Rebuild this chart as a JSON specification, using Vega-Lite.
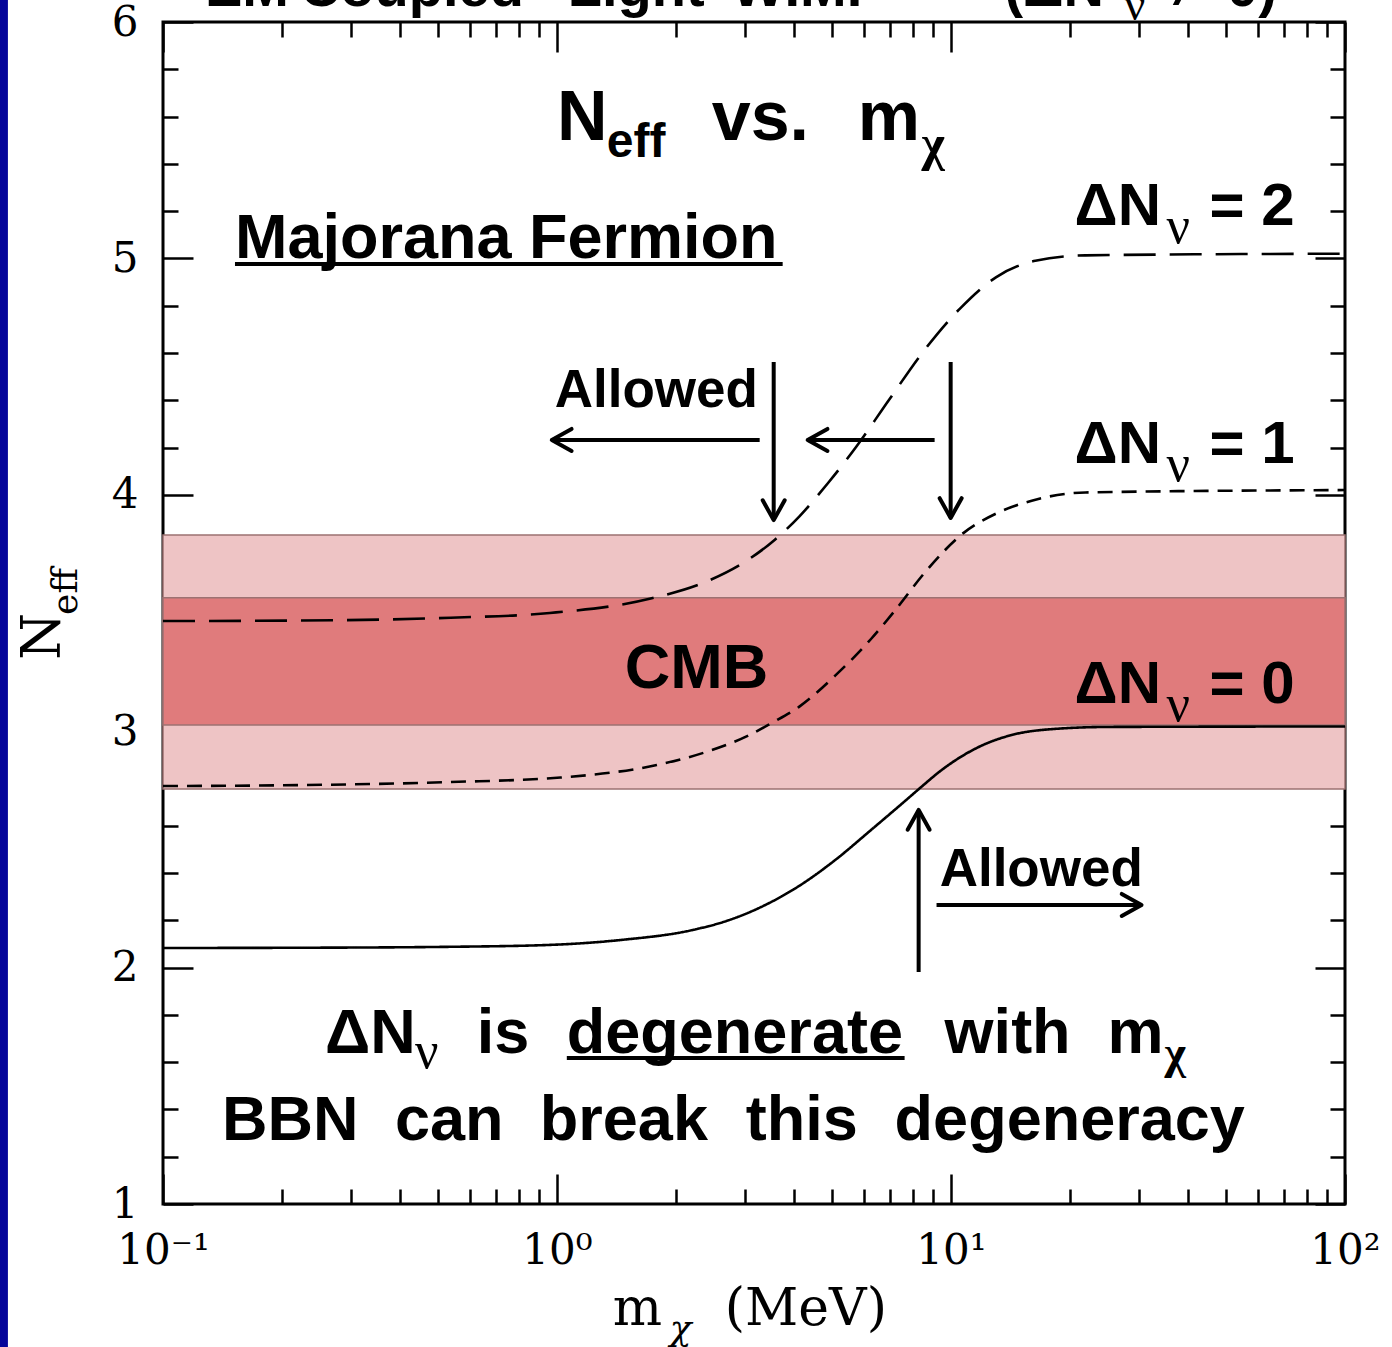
{
  "$schema": "https://vega.github.io/schema/vega-lite/v6.json",
  "width": 1182,
  "height": 1182,
  "autosize": {"type": "none"},
  "padding": {"left": 163, "top": 22, "right": 47, "bottom": 143},
  "background": "white",
  "config": {
    "view": {"stroke": "black", "strokeWidth": 3},
    "axis": {"grid": false, "domain": false, "tickColor": "black", "tickWidth": 2.5, "labelColor": "black", "title": null, "zindex": 1}
  },
  "datasets": {
    "bands": [
      {"band": "outer", "lo": 2.755, "hi": 3.83},
      {"band": "inner", "lo": 3.026, "hi": 3.564}
    ],
    "curves": [
      {"s": "dN0", "m": 0.1, "n": 2.083}, {"s": "dN0", "m": 0.224, "n": 2.084}, {"s": "dN0", "m": 0.537, "n": 2.088},
      {"s": "dN0", "m": 0.959, "n": 2.096}, {"s": "dN0", "m": 1.455, "n": 2.117}, {"s": "dN0", "m": 2.208, "n": 2.159},
      {"s": "dN0", "m": 2.723, "n": 2.2}, {"s": "dN0", "m": 3.35, "n": 2.262}, {"s": "dN0", "m": 4.13, "n": 2.347},
      {"s": "dN0", "m": 5.082, "n": 2.455}, {"s": "dN0", "m": 6.266, "n": 2.582}, {"s": "dN0", "m": 7.709, "n": 2.71},
      {"s": "dN0", "m": 8.375, "n": 2.762}, {"s": "dN0", "m": 9.506, "n": 2.838}, {"s": "dN0", "m": 11.72, "n": 2.932},
      {"s": "dN0", "m": 14.42, "n": 2.986}, {"s": "dN0", "m": 17.78, "n": 3.008}, {"s": "dN0", "m": 25.12, "n": 3.018},
      {"s": "dN0", "m": 100, "n": 3.02},
      {"s": "dN1", "m": 0.1, "n": 2.768}, {"s": "dN1", "m": 0.224, "n": 2.772}, {"s": "dN1", "m": 0.537, "n": 2.785},
      {"s": "dN1", "m": 1.021, "n": 2.804}, {"s": "dN1", "m": 1.791, "n": 2.857}, {"s": "dN1", "m": 2.449, "n": 2.918},
      {"s": "dN1", "m": 3.083, "n": 2.984}, {"s": "dN1", "m": 3.491, "n": 3.033}, {"s": "dN1", "m": 4.13, "n": 3.105},
      {"s": "dN1", "m": 5.082, "n": 3.235}, {"s": "dN1", "m": 6.266, "n": 3.39}, {"s": "dN1", "m": 7.244, "n": 3.515},
      {"s": "dN1", "m": 8.57, "n": 3.67}, {"s": "dN1", "m": 10.79, "n": 3.84}, {"s": "dN1", "m": 13.0, "n": 3.92},
      {"s": "dN1", "m": 16.03, "n": 3.975}, {"s": "dN1", "m": 21.93, "n": 4.01}, {"s": "dN1", "m": 100, "n": 4.02},
      {"s": "dN2", "m": 0.1, "n": 3.466}, {"s": "dN2", "m": 0.224, "n": 3.468}, {"s": "dN2", "m": 0.537, "n": 3.48},
      {"s": "dN2", "m": 0.959, "n": 3.5}, {"s": "dN2", "m": 1.718, "n": 3.56}, {"s": "dN2", "m": 2.449, "n": 3.64},
      {"s": "dN2", "m": 3.02, "n": 3.72}, {"s": "dN2", "m": 3.573, "n": 3.81}, {"s": "dN2", "m": 4.13, "n": 3.91},
      {"s": "dN2", "m": 4.875, "n": 4.05}, {"s": "dN2", "m": 5.754, "n": 4.204}, {"s": "dN2", "m": 6.95, "n": 4.4},
      {"s": "dN2", "m": 8.57, "n": 4.613}, {"s": "dN2", "m": 10.57, "n": 4.79}, {"s": "dN2", "m": 13.0, "n": 4.92},
      {"s": "dN2", "m": 16.37, "n": 4.99}, {"s": "dN2", "m": 21.93, "n": 5.013}, {"s": "dN2", "m": 100, "n": 5.02}
    ],
    "arrows": [
      {"x": 3.269, "y": 4.232, "x2": 0.97, "y2": 4.232, "dir": "left"},
      {"x": 3.548, "y": 4.562, "x2": 3.548, "y2": 3.893, "dir": "down"},
      {"x": 9.087, "y": 4.232, "x2": 4.327, "y2": 4.232, "dir": "left"},
      {"x": 9.98, "y": 4.562, "x2": 9.98, "y2": 3.902, "dir": "down"},
      {"x": 8.277, "y": 1.981, "x2": 8.277, "y2": 2.667, "dir": "up"},
      {"x": 9.19, "y": 2.265, "x2": 30.45, "y2": 2.265, "dir": "right"}
    ],
    "underlines": [
      {"x": 0.1523, "x2": 3.739, "y": 4.976},
      {"x": 1.059, "x2": 7.625, "y": 1.6176}
    ],
    "strip": [
      {"x": 0.03, "x2": 0.0404, "y": 0.3, "y2": 6.2}
    ],
    "txt": [
      {"k": "title", "t": "EM", "x": 0.1278, "y": 6.0677},
      {"k": "title", "t": "Coupled", "x": 0.2226, "y": 6.0677},
      {"k": "title", "t": "Light", "x": 1.065, "y": 6.0677},
      {"k": "title", "t": "WIMP", "x": 2.776, "y": 6.0677},
      {"k": "title", "t": "(ΔN", "x": 13.68, "y": 6.0677},
      {"k": "titlenu", "t": "ν", "x": 27.57, "y": 6.0085},
      {"k": "title", "t": "≠", "x": 35.85, "y": 6.0677},
      {"k": "title", "t": "0)", "x": 50.2, "y": 6.0677},
      {"k": "h70", "t": "N", "x": 1.0, "y": 5.5},
      {"k": "h70", "t": "vs.", "x": 2.47, "y": 5.5},
      {"k": "h70", "t": "m", "x": 5.797, "y": 5.5},
      {"k": "sub48", "t": "eff", "x": 1.338, "y": 5.429},
      {"k": "chi48", "t": "χ", "x": 8.42, "y": 5.416},
      {"k": "h63", "t": "Majorana Fermion", "x": 0.1523, "y": 5.0},
      {"k": "h63", "t": "CMB", "x": 1.486, "y": 3.183},
      {"k": "h63", "t": "ΔN", "x": 0.2576, "y": 1.6387},
      {"k": "h63", "t": "is", "x": 0.626, "y": 1.6387},
      {"k": "h63", "t": "degenerate", "x": 1.059, "y": 1.6387},
      {"k": "h63", "t": "with", "x": 9.634, "y": 1.6387},
      {"k": "h63", "t": "m", "x": 24.96, "y": 1.6387},
      {"k": "h63", "t": "BBN", "x": 0.1412, "y": 1.2707},
      {"k": "h63", "t": "can", "x": 0.3878, "y": 1.2707},
      {"k": "h63", "t": "break", "x": 0.9045, "y": 1.2707},
      {"k": "h63", "t": "this", "x": 3.013, "y": 1.2707},
      {"k": "h63", "t": "degeneracy", "x": 7.193, "y": 1.2707},
      {"k": "h60", "t": "ΔN", "x": 20.59, "y": 5.141},
      {"k": "h60", "t": "= 2", "x": 45.29, "y": 5.141},
      {"k": "h60", "t": "ΔN", "x": 20.59, "y": 4.1345},
      {"k": "h60", "t": "= 1", "x": 45.29, "y": 4.1345},
      {"k": "h60", "t": "ΔN", "x": 20.59, "y": 3.1193},
      {"k": "h60", "t": "= 0", "x": 45.29, "y": 3.1193},
      {"k": "nu", "t": "ν", "x": 35.24, "y": 5.065},
      {"k": "nu", "t": "ν", "x": 35.24, "y": 4.0584},
      {"k": "nu", "t": "ν", "x": 35.24, "y": 3.0431},
      {"k": "nu", "t": "ν", "x": 0.4358, "y": 1.5753},
      {"k": "chi45", "t": "χ", "x": 34.83, "y": 1.5753},
      {"k": "h53", "t": "Allowed", "x": 0.987, "y": 4.3714},
      {"k": "h53", "t": "Allowed", "x": 9.357, "y": 2.3452},
      {"k": "ax", "t": "m", "x": 1.386, "y": 0.488},
      {"k": "ax", "t": "(MeV)", "x": 2.666, "y": 0.488},
      {"k": "axsub", "t": "χ", "x": 1.932, "y": 0.4247},
      {"k": "yax", "t": "N", "x": 0.0548, "y": 3.301},
      {"k": "yaxsub", "t": "eff", "x": 0.0605, "y": 3.492}
    ]
  },
  "layer": [
    {
      "data": {"name": "strip"},
      "mark": {"type": "rect", "color": "#05059a"},
      "encoding": {
        "x": {"field": "x", "type": "quantitative", "scale": {"type": "log", "domain": [0.1, 100]}, "axis": null},
        "x2": {"field": "x2"},
        "y": {"field": "y", "type": "quantitative", "scale": {"domain": [1, 6]}, "axis": null},
        "y2": {"field": "y2"}
      }
    },
    {
      "data": {"name": "bands"},
      "mark": {"type": "rect", "stroke": "#9c7272", "strokeWidth": 1.5},
      "encoding": {
        "x": {"datum": 0.1, "type": "quantitative", "scale": {"type": "log", "domain": [0.1, 100]},
          "axis": {"orient": "bottom",
            "values": [0.1, 0.2, 0.3, 0.4, 0.5, 0.6, 0.7, 0.8, 0.9, 1, 2, 3, 4, 5, 6, 7, 8, 9, 10, 20, 30, 40, 50, 60, 70, 80, 90, 100],
            "tickSize": {"condition": {"test": "datum.value==0.1||datum.value==1||datum.value==10||datum.value==100", "value": -30}, "value": -15},
            "labelExpr": "datum.value==0.1?'10⁻¹':datum.value==1?'10⁰':datum.value==10?'10¹':datum.value==100?'10²':''",
            "labelFont": "DejaVu Serif", "labelFontSize": 42, "labelPadding": 56, "labelOverlap": false, "labelFlush": false}},
        "x2": {"datum": 100},
        "y": {"field": "lo", "type": "quantitative", "scale": {"domain": [1, 6]},
          "axis": {"orient": "left",
            "values": [1, 1.2, 1.4, 1.6, 1.8, 2, 2.2, 2.4, 2.6, 2.8, 3, 3.2, 3.4, 3.6, 3.8, 4, 4.2, 4.4, 4.6, 4.8, 5, 5.2, 5.4, 5.6, 5.8, 6],
            "tickSize": {"condition": {"test": "datum.value%1==0", "value": -30}, "value": -15},
            "labelExpr": "datum.value%1==0?format(datum.value,'d'):''",
            "labelFont": "DejaVu Serif", "labelFontSize": 42, "labelPadding": 55, "labelOverlap": false, "labelFlush": false}},
        "y2": {"field": "hi"},
        "color": {"field": "band", "type": "nominal", "scale": {"domain": ["outer", "inner"], "range": ["#eec4c5", "#e07b7c"]}, "legend": null}
      }
    },
    {
      "data": {"name": "curves"},
      "mark": {"type": "line", "color": "black", "strokeWidth": 2.6, "interpolate": "monotone"},
      "encoding": {
        "x": {"field": "m", "type": "quantitative", "scale": {"type": "log", "domain": [0.1, 100]},
          "axis": {"orient": "top", "labels": false,
            "values": [0.1, 0.2, 0.3, 0.4, 0.5, 0.6, 0.7, 0.8, 0.9, 1, 2, 3, 4, 5, 6, 7, 8, 9, 10, 20, 30, 40, 50, 60, 70, 80, 90, 100],
            "tickSize": {"condition": {"test": "datum.value==0.1||datum.value==1||datum.value==10||datum.value==100", "value": -30}, "value": -15}}},
        "y": {"field": "n", "type": "quantitative", "scale": {"domain": [1, 6]},
          "axis": {"orient": "right", "labels": false,
            "values": [1, 1.2, 1.4, 1.6, 1.8, 2, 2.2, 2.4, 2.6, 2.8, 3, 3.2, 3.4, 3.6, 3.8, 4, 4.2, 4.4, 4.6, 4.8, 5, 5.2, 5.4, 5.6, 5.8, 6],
            "tickSize": {"condition": {"test": "datum.value%1==0", "value": -30}, "value": -15}}},
        "detail": {"field": "s", "type": "nominal"},
        "strokeDash": {"field": "s", "type": "nominal", "scale": {"domain": ["dN0", "dN1", "dN2"], "range": [[1, 0], [15, 9], [32, 14]]}, "legend": null}
      }
    },
    {
      "data": {"name": "arrows"},
      "mark": {"type": "rule", "color": "black", "strokeWidth": 4},
      "encoding": {
        "x": {"field": "x", "type": "quantitative", "scale": {"type": "log", "domain": [0.1, 100]}, "axis": null},
        "x2": {"field": "x2"},
        "y": {"field": "y", "type": "quantitative", "scale": {"domain": [1, 6]}, "axis": null},
        "y2": {"field": "y2"}
      }
    },
    {
      "data": {"name": "arrows"},
      "transform": [{"filter": "datum.dir=='right'"}],
      "mark": {"type": "point", "shape": "M -1.8 -1 L 0 0 L -1.8 1", "size": 484, "angle": 0, "filled": false, "stroke": "black", "strokeWidth": 4, "strokeCap": "round", "strokeJoin": "round", "opacity": 1},
      "encoding": {
        "x": {"field": "x2", "type": "quantitative", "scale": {"type": "log", "domain": [0.1, 100]}, "axis": null},
        "y": {"field": "y2", "type": "quantitative", "scale": {"domain": [1, 6]}, "axis": null}
      }
    },
    {
      "data": {"name": "arrows"},
      "transform": [{"filter": "datum.dir=='down'"}],
      "mark": {"type": "point", "shape": "M -1.8 -1 L 0 0 L -1.8 1", "size": 484, "angle": 90, "filled": false, "stroke": "black", "strokeWidth": 4, "strokeCap": "round", "strokeJoin": "round", "opacity": 1},
      "encoding": {
        "x": {"field": "x2", "type": "quantitative", "scale": {"type": "log", "domain": [0.1, 100]}, "axis": null},
        "y": {"field": "y2", "type": "quantitative", "scale": {"domain": [1, 6]}, "axis": null}
      }
    },
    {
      "data": {"name": "arrows"},
      "transform": [{"filter": "datum.dir=='left'"}],
      "mark": {"type": "point", "shape": "M -1.8 -1 L 0 0 L -1.8 1", "size": 484, "angle": 180, "filled": false, "stroke": "black", "strokeWidth": 4, "strokeCap": "round", "strokeJoin": "round", "opacity": 1},
      "encoding": {
        "x": {"field": "x2", "type": "quantitative", "scale": {"type": "log", "domain": [0.1, 100]}, "axis": null},
        "y": {"field": "y2", "type": "quantitative", "scale": {"domain": [1, 6]}, "axis": null}
      }
    },
    {
      "data": {"name": "arrows"},
      "transform": [{"filter": "datum.dir=='up'"}],
      "mark": {"type": "point", "shape": "M -1.8 -1 L 0 0 L -1.8 1", "size": 484, "angle": 270, "filled": false, "stroke": "black", "strokeWidth": 4, "strokeCap": "round", "strokeJoin": "round", "opacity": 1},
      "encoding": {
        "x": {"field": "x2", "type": "quantitative", "scale": {"type": "log", "domain": [0.1, 100]}, "axis": null},
        "y": {"field": "y2", "type": "quantitative", "scale": {"domain": [1, 6]}, "axis": null}
      }
    },
    {
      "data": {"name": "underlines"},
      "mark": {"type": "rule", "color": "black", "strokeWidth": 4},
      "encoding": {
        "x": {"field": "x", "type": "quantitative", "scale": {"type": "log", "domain": [0.1, 100]}, "axis": null},
        "x2": {"field": "x2"},
        "y": {"field": "y", "type": "quantitative", "scale": {"domain": [1, 6]}, "axis": null}
      }
    },
    {
      "data": {"name": "txt"},
      "transform": [{"filter": "datum.k=='title'"}],
      "mark": {"type": "text", "align": "left", "baseline": "alphabetic", "font": "Liberation Sans", "fontWeight": "bold", "fontSize": 56, "color": "black"},
      "encoding": {
        "x": {"field": "x", "type": "quantitative", "scale": {"type": "log", "domain": [0.1, 100]}, "axis": null},
        "y": {"field": "y", "type": "quantitative", "scale": {"domain": [1, 6]}, "axis": null},
        "text": {"field": "t"}
      }
    },
    {
      "data": {"name": "txt"},
      "transform": [{"filter": "datum.k=='titlenu'"}],
      "mark": {"type": "text", "align": "left", "baseline": "alphabetic", "font": "Liberation Serif", "fontSize": 46, "color": "black"},
      "encoding": {
        "x": {"field": "x", "type": "quantitative", "scale": {"type": "log", "domain": [0.1, 100]}, "axis": null},
        "y": {"field": "y", "type": "quantitative", "scale": {"domain": [1, 6]}, "axis": null},
        "text": {"field": "t"}
      }
    },
    {
      "data": {"name": "txt"},
      "transform": [{"filter": "datum.k=='h70'"}],
      "mark": {"type": "text", "align": "left", "baseline": "alphabetic", "font": "Liberation Sans", "fontWeight": "bold", "fontSize": 70, "color": "black"},
      "encoding": {
        "x": {"field": "x", "type": "quantitative", "scale": {"type": "log", "domain": [0.1, 100]}, "axis": null},
        "y": {"field": "y", "type": "quantitative", "scale": {"domain": [1, 6]}, "axis": null},
        "text": {"field": "t"}
      }
    },
    {
      "data": {"name": "txt"},
      "transform": [{"filter": "datum.k=='sub48'"}],
      "mark": {"type": "text", "align": "left", "baseline": "alphabetic", "font": "Liberation Sans", "fontWeight": "bold", "fontSize": 48, "color": "black"},
      "encoding": {
        "x": {"field": "x", "type": "quantitative", "scale": {"type": "log", "domain": [0.1, 100]}, "axis": null},
        "y": {"field": "y", "type": "quantitative", "scale": {"domain": [1, 6]}, "axis": null},
        "text": {"field": "t"}
      }
    },
    {
      "data": {"name": "txt"},
      "transform": [{"filter": "datum.k=='chi48'"}],
      "mark": {"type": "text", "align": "left", "baseline": "alphabetic", "font": "Liberation Serif", "fontWeight": "bold", "fontSize": 50, "color": "black"},
      "encoding": {
        "x": {"field": "x", "type": "quantitative", "scale": {"type": "log", "domain": [0.1, 100]}, "axis": null},
        "y": {"field": "y", "type": "quantitative", "scale": {"domain": [1, 6]}, "axis": null},
        "text": {"field": "t"}
      }
    },
    {
      "data": {"name": "txt"},
      "transform": [{"filter": "datum.k=='h63'"}],
      "mark": {"type": "text", "align": "left", "baseline": "alphabetic", "font": "Liberation Sans", "fontWeight": "bold", "fontSize": 63, "color": "black"},
      "encoding": {
        "x": {"field": "x", "type": "quantitative", "scale": {"type": "log", "domain": [0.1, 100]}, "axis": null},
        "y": {"field": "y", "type": "quantitative", "scale": {"domain": [1, 6]}, "axis": null},
        "text": {"field": "t"}
      }
    },
    {
      "data": {"name": "txt"},
      "transform": [{"filter": "datum.k=='h60'"}],
      "mark": {"type": "text", "align": "left", "baseline": "alphabetic", "font": "Liberation Sans", "fontWeight": "bold", "fontSize": 60, "color": "black"},
      "encoding": {
        "x": {"field": "x", "type": "quantitative", "scale": {"type": "log", "domain": [0.1, 100]}, "axis": null},
        "y": {"field": "y", "type": "quantitative", "scale": {"domain": [1, 6]}, "axis": null},
        "text": {"field": "t"}
      }
    },
    {
      "data": {"name": "txt"},
      "transform": [{"filter": "datum.k=='nu'"}],
      "mark": {"type": "text", "align": "left", "baseline": "alphabetic", "font": "Liberation Serif", "fontSize": 52, "color": "black"},
      "encoding": {
        "x": {"field": "x", "type": "quantitative", "scale": {"type": "log", "domain": [0.1, 100]}, "axis": null},
        "y": {"field": "y", "type": "quantitative", "scale": {"domain": [1, 6]}, "axis": null},
        "text": {"field": "t"}
      }
    },
    {
      "data": {"name": "txt"},
      "transform": [{"filter": "datum.k=='chi45'"}],
      "mark": {"type": "text", "align": "left", "baseline": "alphabetic", "font": "Liberation Serif", "fontWeight": "bold", "fontSize": 46, "color": "black"},
      "encoding": {
        "x": {"field": "x", "type": "quantitative", "scale": {"type": "log", "domain": [0.1, 100]}, "axis": null},
        "y": {"field": "y", "type": "quantitative", "scale": {"domain": [1, 6]}, "axis": null},
        "text": {"field": "t"}
      }
    },
    {
      "data": {"name": "txt"},
      "transform": [{"filter": "datum.k=='h53'"}],
      "mark": {"type": "text", "align": "left", "baseline": "alphabetic", "font": "Liberation Sans", "fontWeight": "bold", "fontSize": 53, "color": "black"},
      "encoding": {
        "x": {"field": "x", "type": "quantitative", "scale": {"type": "log", "domain": [0.1, 100]}, "axis": null},
        "y": {"field": "y", "type": "quantitative", "scale": {"domain": [1, 6]}, "axis": null},
        "text": {"field": "t"}
      }
    },
    {
      "data": {"name": "txt"},
      "transform": [{"filter": "datum.k=='ax'"}],
      "mark": {"type": "text", "align": "left", "baseline": "alphabetic", "font": "DejaVu Serif", "fontSize": 52, "color": "black"},
      "encoding": {
        "x": {"field": "x", "type": "quantitative", "scale": {"type": "log", "domain": [0.1, 100]}, "axis": null},
        "y": {"field": "y", "type": "quantitative", "scale": {"domain": [1, 6]}, "axis": null},
        "text": {"field": "t"}
      }
    },
    {
      "data": {"name": "txt"},
      "transform": [{"filter": "datum.k=='axsub'"}],
      "mark": {"type": "text", "align": "left", "baseline": "alphabetic", "font": "DejaVu Serif", "fontStyle": "italic", "fontSize": 36, "color": "black"},
      "encoding": {
        "x": {"field": "x", "type": "quantitative", "scale": {"type": "log", "domain": [0.1, 100]}, "axis": null},
        "y": {"field": "y", "type": "quantitative", "scale": {"domain": [1, 6]}, "axis": null},
        "text": {"field": "t"}
      }
    },
    {
      "data": {"name": "txt"},
      "transform": [{"filter": "datum.k=='yax'"}],
      "mark": {"type": "text", "align": "left", "baseline": "alphabetic", "angle": 270, "font": "DejaVu Serif", "fontSize": 54, "color": "black"},
      "encoding": {
        "x": {"field": "x", "type": "quantitative", "scale": {"type": "log", "domain": [0.1, 100]}, "axis": null},
        "y": {"field": "y", "type": "quantitative", "scale": {"domain": [1, 6]}, "axis": null},
        "text": {"field": "t"}
      }
    },
    {
      "data": {"name": "txt"},
      "transform": [{"filter": "datum.k=='yaxsub'"}],
      "mark": {"type": "text", "align": "left", "baseline": "alphabetic", "angle": 270, "font": "DejaVu Serif", "fontSize": 36, "color": "black"},
      "encoding": {
        "x": {"field": "x", "type": "quantitative", "scale": {"type": "log", "domain": [0.1, 100]}, "axis": null},
        "y": {"field": "y", "type": "quantitative", "scale": {"domain": [1, 6]}, "axis": null},
        "text": {"field": "t"}
      }
    }
  ],
  "resolve": {"axis": {"x": "independent", "y": "independent"}}
}
